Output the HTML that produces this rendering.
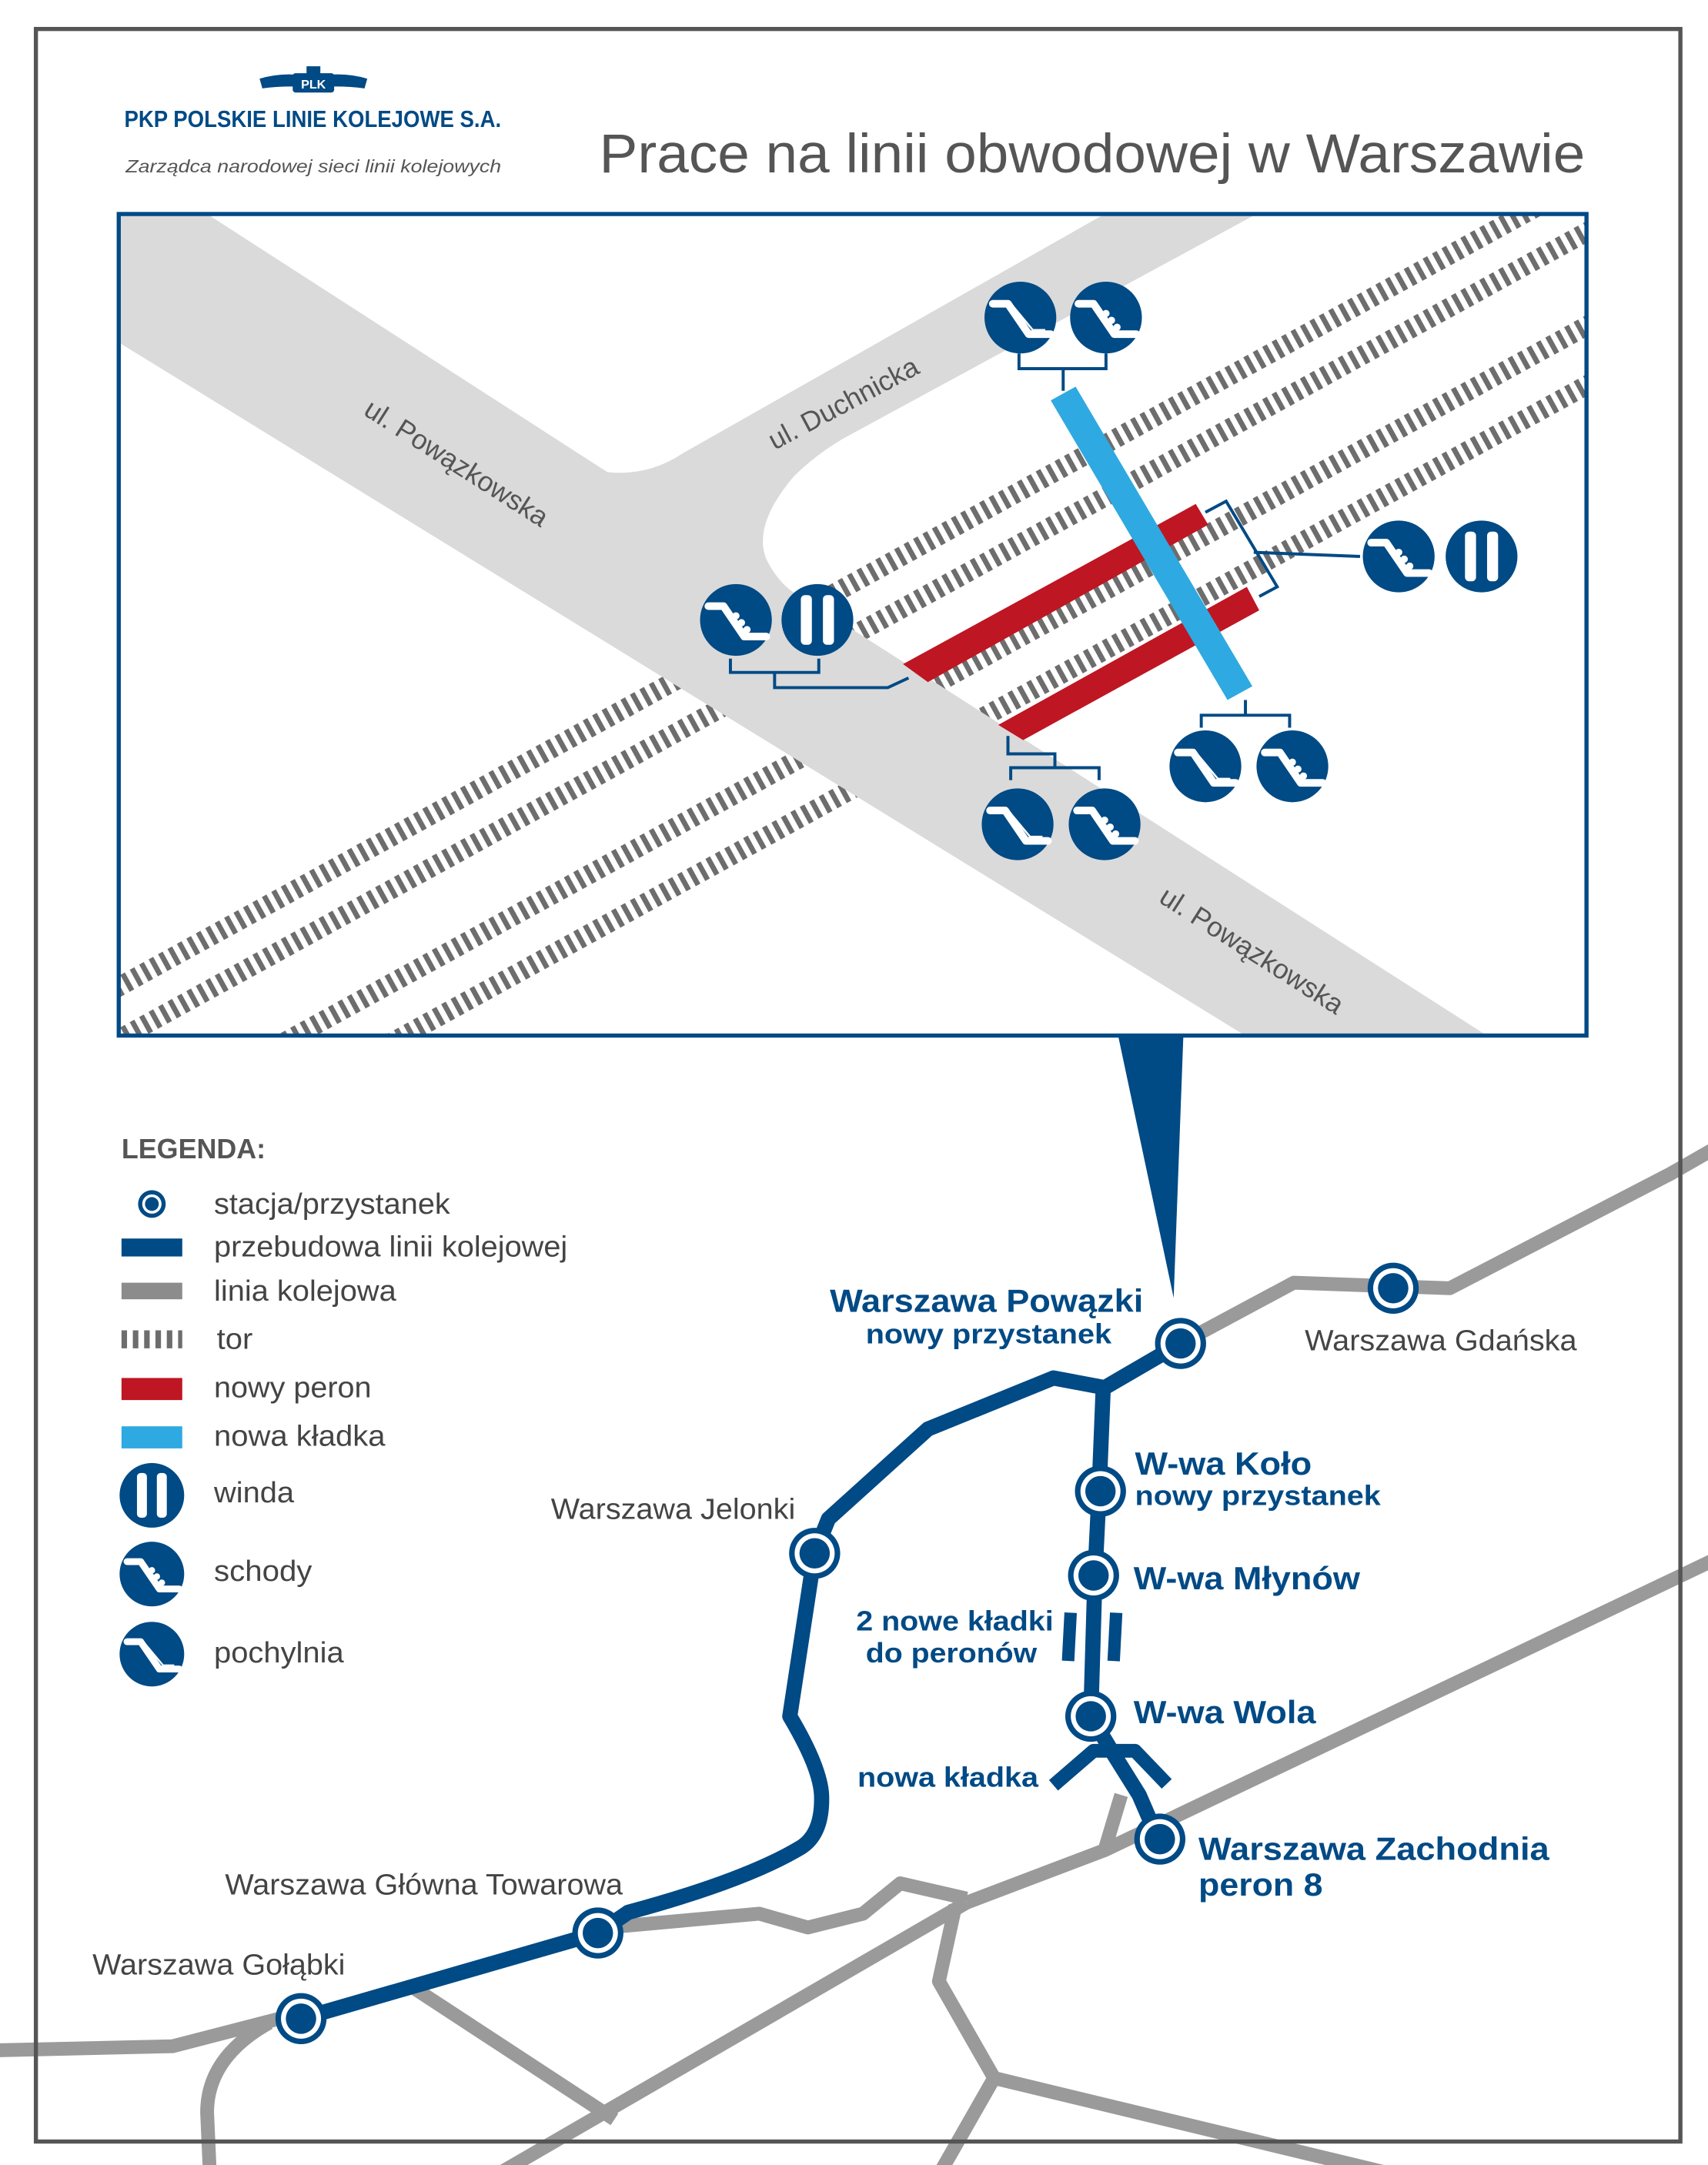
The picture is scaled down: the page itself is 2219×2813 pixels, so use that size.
<!DOCTYPE html>
<html><head><meta charset="utf-8"><style>
html,body{margin:0;padding:0;background:#fff}
svg{display:block}
text{font-family:"Liberation Sans",sans-serif}
</style></head><body>
<svg width="2219" height="2813" viewBox="0 0 1237 1568" preserveAspectRatio="none" xmlns="http://www.w3.org/2000/svg">
<defs>
<clipPath id="ic"><rect x="87" y="156" width="1061" height="593"/></clipPath>
<g id="schody"><circle r="26" fill="#004a85"/><path d="M-20,-10 L-9,-10 L6,12 L22,12" fill="none" stroke="#fff" stroke-width="5.5" stroke-linecap="round" stroke-linejoin="round"/><circle cx="0" cy="-3" r="2.6" fill="#fff"/><circle cx="4" cy="2" r="2.6" fill="#fff"/><circle cx="8" cy="7" r="2.6" fill="#fff"/></g>
<g id="poch"><circle r="26" fill="#004a85"/><path d="M-20,-10 L-9,-10 L6,12 L22,12" fill="none" stroke="#fff" stroke-width="5.5" stroke-linecap="round" stroke-linejoin="round"/><path d="M-6,-9 L9,9 L18,9" fill="none" stroke="#fff" stroke-width="1.4"/></g>
<g id="winda"><circle r="26" fill="#004a85"/><rect x="-12" y="-18" width="8" height="36" rx="3" fill="#fff"/><rect x="4" y="-18" width="8" height="36" rx="3" fill="#fff"/></g>
<g id="st"><circle r="18.5" fill="#004a85"/><circle r="14.5" fill="#fff"/><circle r="11" fill="#004a85"/></g>
</defs>

<!-- logo -->
<g fill="#004a85">
<path d="M188,57 Q205,52 222,55 L222,63 Q205,62 190,64 Z"/>
<path d="M266,57 Q249,52 232,55 L232,63 Q249,62 264,64 Z"/>
<rect x="212" y="53" width="30" height="14" rx="2"/>
<rect x="222" y="48" width="10" height="6"/>
</g>
<text x="227" y="64" font-size="9" font-weight="bold" fill="#fff" text-anchor="middle" font-family="Liberation Serif,serif">PLK</text>
<text x="90" y="92" font-size="17" font-weight="bold" fill="#004a85" textLength="273" lengthAdjust="spacingAndGlyphs">PKP POLSKIE LINIE KOLEJOWE S.A.</text>
<text x="91" y="125" font-size="13" font-style="italic" fill="#555" textLength="272" lengthAdjust="spacingAndGlyphs">Zarządca narodowej sieci linii kolejowych</text>
<text x="1148" y="125" font-size="40" fill="#555" text-anchor="end" textLength="714" lengthAdjust="spacingAndGlyphs">Prace na linii obwodowej w Warszawie</text>

<!-- inset -->
<rect x="86" y="155" width="1063" height="595" fill="#fff"/>
<g clip-path="url(#ic)">
 <g stroke="#6d6d6d" stroke-width="14" stroke-dasharray="3.8 4" fill="none">
  <line x1="1160" y1="124" x2="60" y2="729"/>
  <line x1="1160" y1="162" x2="60" y2="767"/>
  <line x1="1160" y1="230" x2="60" y2="835"/>
  <line x1="1160" y1="273" x2="60" y2="878"/>
 </g>
 <path d="M60,155 L150,155 L440,342 Q470,345 495,328 L800,155 L910,155 L610,318 Q590,330 575,345 Q545,380 555,405 Q565,425 580,432 L1080,752 L905,752 L60,232 Z" fill="#dadada"/>
 <polygon points="654,481 672,494 875,380 866,365" fill="#be1622"/>
 <polygon points="723,525 741,536 912,442 903,425" fill="#be1622"/>
 <polygon points="761,290 779,280 907,497 889,507" fill="#2fa9e1"/>
 <g fill="none" stroke="#004a85" stroke-width="2.2">
  <path d="M738,256 V267 H801 V256 M770,267 V283"/>
  <path d="M529,477 V487 H593 V477 M561,487 V498 H643 L658,491"/>
  <path d="M730,533 V546 H764 V556 M732,565 V556 H796 V565"/>
  <path d="M902,507 V518 M870,527 V518 H934 V527"/>
  <path d="M873,371 L888,363 L925,425 L912,432 M908,400 L985,403"/>
 </g>
 <use href="#poch" x="739" y="230"/>
 <use href="#schody" x="801" y="230"/>
 <use href="#schody" x="533" y="449"/>
 <use href="#winda" x="592" y="449"/>
 <use href="#schody" x="1013" y="403"/>
 <use href="#winda" x="1073" y="403"/>
 <use href="#poch" x="873" y="555"/>
 <use href="#schody" x="936" y="555"/>
 <use href="#poch" x="737" y="597"/>
 <use href="#schody" x="800" y="597"/>
 <text x="0" y="0" font-size="20" fill="#555" text-anchor="middle" transform="translate(327,341) rotate(32.5)">ul. Powązkowska</text>
 <text x="0" y="0" font-size="20" fill="#555" text-anchor="middle" transform="translate(903,694) rotate(32.5)">ul. Powązkowska</text>
 <text x="0" y="0" font-size="20" fill="#555" text-anchor="middle" transform="translate(614,298) rotate(-28)">ul. Duchnicka</text>
</g>
<rect x="86" y="155" width="1063" height="595" fill="none" stroke="#004a85" stroke-width="3"/>
<polygon points="810,751 857,751 850,940" fill="#004a85"/>

<!-- legend -->
<text x="88" y="839" font-size="20" font-weight="bold" fill="#555">LEGENDA:</text>
<circle cx="110" cy="872" r="10" fill="#004a85"/><circle cx="110" cy="872" r="7" fill="#fff"/><circle cx="110" cy="872" r="5" fill="#004a85"/>
<rect x="88" y="897" width="44" height="13" fill="#004a85"/>
<rect x="88" y="929" width="44" height="12" fill="#8c8c8c"/>
<line x1="88" y1="970" x2="132" y2="970" stroke="#6d6d6d" stroke-width="13" stroke-dasharray="4 4.2"/>
<rect x="88" y="998" width="44" height="16" fill="#be1622"/>
<rect x="88" y="1033" width="44" height="16" fill="#2fa9e1"/>
<use href="#winda" x="110" y="1083" transform="translate(11,108.3) scale(0.9)" />
<use href="#schody" x="110" y="1140" transform="translate(11,114) scale(0.9)"/>
<use href="#poch" x="110" y="1198" transform="translate(11,119.8) scale(0.9)"/>
<g font-size="21" fill="#444">
<text x="155" y="879" textLength="171" lengthAdjust="spacingAndGlyphs">stacja/przystanek</text>
<text x="155" y="910" textLength="256" lengthAdjust="spacingAndGlyphs">przebudowa linii kolejowej</text>
<text x="155" y="942" textLength="132" lengthAdjust="spacingAndGlyphs">linia kolejowa</text>
<text x="157" y="977" textLength="26" lengthAdjust="spacingAndGlyphs">tor</text>
<text x="155" y="1012" textLength="114" lengthAdjust="spacingAndGlyphs">nowy peron</text>
<text x="155" y="1047" textLength="124" lengthAdjust="spacingAndGlyphs">nowa kładka</text>
<text x="155" y="1088" textLength="58" lengthAdjust="spacingAndGlyphs">winda</text>
<text x="155" y="1145" textLength="71" lengthAdjust="spacingAndGlyphs">schody</text>
<text x="155" y="1204" textLength="94" lengthAdjust="spacingAndGlyphs">pochylnia</text>
</g>

<!-- main map -->
<g fill="none" stroke-linejoin="round">
 <g stroke="#9a9a9a" stroke-width="10">
  <path d="M855,973 L937,929 L1050,933 L1210,850 L1245,830"/>
  <path d="M1245,1128 L800,1340 L700,1378"/>
  <path d="M800,1340 L812,1300"/>
  <path d="M700,1378 L360,1575"/>
  <path d="M-5,1485 L125,1482 L210,1460"/>
  <path d="M195,1465 Q150,1490 150,1530 L152,1575"/>
  <path d="M300,1440 L445,1535"/>
  <path d="M450,1395 L550,1386 L585,1396 L625,1386 L652,1364 L700,1375"/>
  <path d="M692,1380 L680,1435 L720,1505 L1010,1575"/>
  <path d="M720,1505 L680,1575"/>
 </g>
 <g stroke="#004a85" stroke-width="11" stroke-linecap="butt">
  <path d="M218,1462 L433,1400 L455,1385 Q540,1362 580,1338 Q596,1328 595,1300 Q594,1280 572,1243 L590,1125 L600,1100 L672,1035 L763,998 L800,1005 L855,973"/>
  <path d="M799,1005 L796,1080 L793,1141 L790,1243 L805,1268 L825,1300 L838,1330"/>
  <path d="M763,1293 L792,1268 L822,1268 L845,1292" stroke-width="10"/>
 </g>
 <rect x="770" y="1168" width="9" height="35" fill="#004a85" transform="rotate(3,775,1185)"/>
 <rect x="803" y="1168" width="9" height="35" fill="#004a85" transform="rotate(3,807,1185)"/>
</g>
<rect x="26" y="21" width="1191" height="1530" fill="none" stroke="#555" stroke-width="3"/>
<use href="#st" x="855" y="973"/>
<use href="#st" x="1009" y="933"/>
<use href="#st" x="797" y="1080"/>
<use href="#st" x="792" y="1141"/>
<use href="#st" x="790" y="1243"/>
<use href="#st" x="840" y="1332"/>
<use href="#st" x="590" y="1125"/>
<use href="#st" x="433" y="1400"/>
<use href="#st" x="218" y="1462"/>

<g font-weight="bold" fill="#004a85">
<text x="601" y="950" font-size="23" textLength="227" lengthAdjust="spacingAndGlyphs">Warszawa Powązki</text>
<text x="627" y="973" font-size="20" textLength="178" lengthAdjust="spacingAndGlyphs">nowy przystanek</text>
<text x="822" y="1068" font-size="23" textLength="128" lengthAdjust="spacingAndGlyphs">W-wa Koło</text>
<text x="822" y="1090" font-size="20" textLength="178" lengthAdjust="spacingAndGlyphs">nowy przystanek</text>
<text x="821" y="1151" font-size="23" textLength="164" lengthAdjust="spacingAndGlyphs">W-wa Młynów</text>
<text x="620" y="1181" font-size="20" textLength="143" lengthAdjust="spacingAndGlyphs">2 nowe kładki</text>
<text x="627" y="1204" font-size="20" textLength="124" lengthAdjust="spacingAndGlyphs">do peronów</text>
<text x="821" y="1248" font-size="23" textLength="132" lengthAdjust="spacingAndGlyphs">W-wa Wola</text>
<text x="621" y="1294" font-size="20" textLength="131" lengthAdjust="spacingAndGlyphs">nowa kładka</text>
<text x="868" y="1347" font-size="23" textLength="254" lengthAdjust="spacingAndGlyphs">Warszawa Zachodnia</text>
<text x="868" y="1373" font-size="23" textLength="90" lengthAdjust="spacingAndGlyphs">peron 8</text>
</g>
<g font-size="21" fill="#444">
<text x="945" y="978" textLength="197" lengthAdjust="spacingAndGlyphs">Warszawa Gdańska</text>
<text x="399" y="1100" textLength="177" lengthAdjust="spacingAndGlyphs">Warszawa Jelonki</text>
<text x="163" y="1372" textLength="288" lengthAdjust="spacingAndGlyphs">Warszawa Główna Towarowa</text>
<text x="67" y="1430" textLength="183" lengthAdjust="spacingAndGlyphs">Warszawa Gołąbki</text>
</g>
</svg>
</body></html>
